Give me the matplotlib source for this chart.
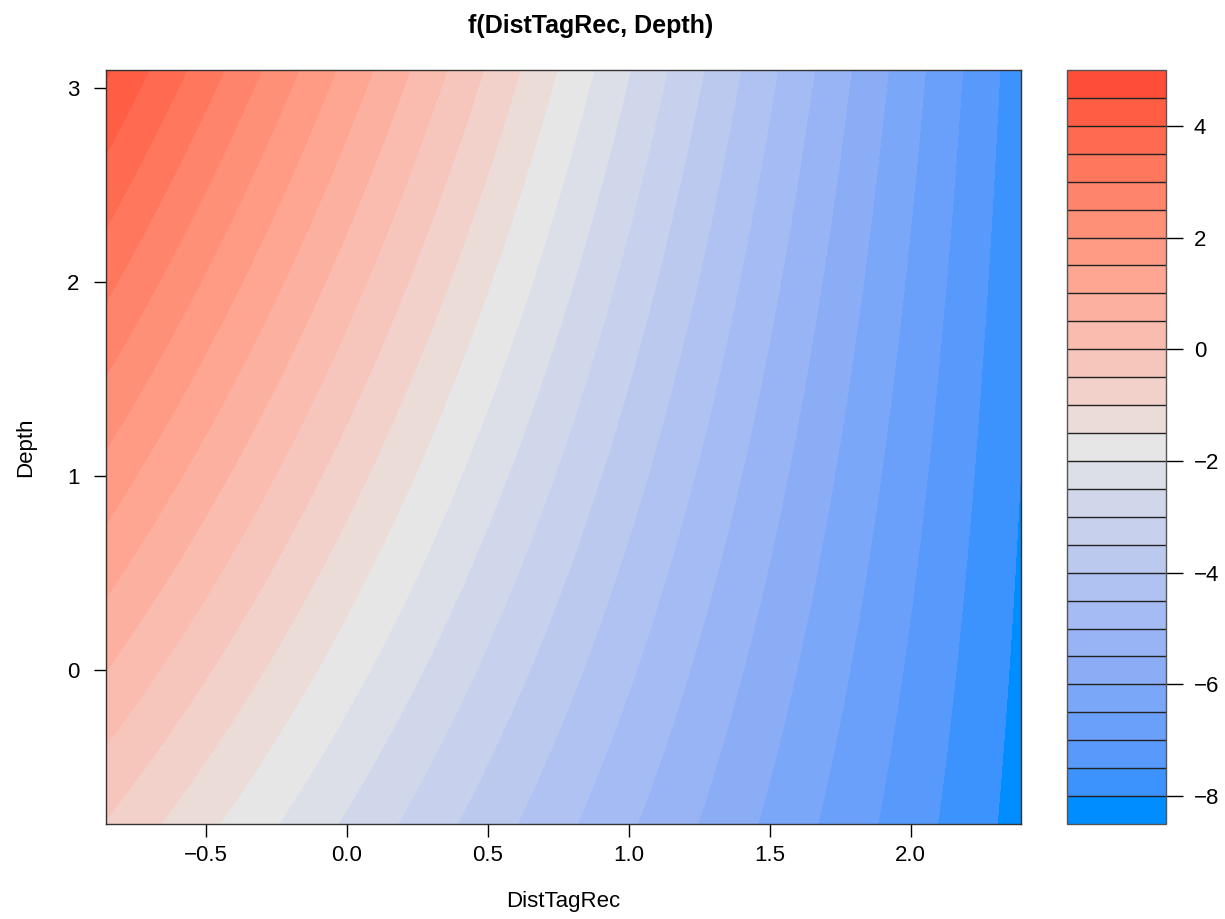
"""Filled contour of f(DistTagRec, Depth) with a banded colour key on the right."""

import numpy as np
import matplotlib

matplotlib.use("Agg")
import matplotlib.pyplot as plt

plt.rcParams["font.family"] = ["Liberation Sans", "DejaVu Sans"]

# values of f on a coarse grid
DIST_TAG_REC = [-0.85, -0.5, 0.0, 0.5, 1.0, 1.5, 2.0, 2.39]
DEPTH = [-0.79, 0.0, 1.0, 2.0, 3.09]
F_DEPTH_M079 = [-0.55, -1.39, -2.58, -3.75, -4.94, -6.10, -7.27, -8.20]
F_DEPTH_0 = [0.52, -0.43, -1.77, -3.10, -4.43, -5.75, -7.07, -8.11]
F_DEPTH_1 = [1.86, 0.76, -0.74, -2.25, -3.77, -5.27, -6.83, -8.00]
F_DEPTH_2 = [3.06, 1.91, 0.21, -1.50, -3.20, -4.90, -6.56, -7.90]
F_DEPTH_3 = [4.57, 3.28, 1.37, -0.57, -2.44, -4.39, -6.30, -7.78]

X_LIMITS = (-0.853, 2.391)
Y_LIMITS = (-0.794, 3.093)
LEVEL_MIN, LEVEL_MAX, LEVEL_STEP = -8.5, 5.0, 0.5

X_TICKS = [-0.5, 0.0, 0.5, 1.0, 1.5, 2.0]
X_TICK_LABELS = ["\u22120.5", "0.0", "0.5", "1.0", "1.5", "2.0"]
Y_TICKS = [0, 1, 2, 3]
KEY_TICKS = [-8, -6, -4, -2, 0, 2, 4]
PALETTE = ["#008DFF", "#E6E6E6", "#FF4E37"]

_WHITE = np.array([0.95047, 1.0, 1.08883])
_M = np.array([[0.4124, 0.3576, 0.1805],
               [0.2126, 0.7152, 0.0722],
               [0.0193, 0.1192, 0.9505]])


def _to_lab(hex_colour):
    rgb = np.array([int(hex_colour[k:k + 2], 16) / 255 for k in (1, 3, 5)])
    lin = np.where(rgb <= 0.04045, rgb / 12.92, ((rgb + 0.055) / 1.055) ** 2.4)
    t = _M @ lin / _WHITE
    f = np.where(t > (6 / 29) ** 3, np.cbrt(t), t / (3 * (6 / 29) ** 2) + 4 / 29)
    return np.array([116 * f[1] - 16, 500 * (f[0] - f[1]), 200 * (f[1] - f[2])])


def _from_lab(lab):
    fy = (lab[0] + 16) / 116
    f = np.array([fy + lab[1] / 500, fy, fy - lab[2] / 200])
    t = np.where(f > 6 / 29, f ** 3, 3 * (6 / 29) ** 2 * (f - 4 / 29)) * _WHITE
    lin = np.linalg.solve(_M, t)
    lin = np.clip(lin, 0, 1)
    rgb = np.where(lin <= 0.0031308, 12.92 * lin, 1.055 * lin ** (1 / 2.4) - 0.055)
    return tuple(np.clip(rgb, 0, 1))


def _ramp(n):
    # like colorRampPalette(..., space = "Lab")
    stops = [_to_lab(c) for c in PALETTE]
    out = []
    for k in range(n):
        pos = k / (n - 1) * (len(stops) - 1)
        i = min(int(pos), len(stops) - 2)
        w = pos - i
        out.append(_from_lab(stops[i] * (1 - w) + stops[i + 1] * w))
    return out


def _surface(n=300):
    # smooth the read-off grid with a low order polynomial surface
    xx, yy = np.meshgrid(DIST_TAG_REC, DEPTH)
    zz = np.array([F_DEPTH_M079, F_DEPTH_0, F_DEPTH_1, F_DEPTH_2, F_DEPTH_3])
    terms = [(i, j) for i in range(4) for j in range(3)]
    design = np.column_stack([xx.ravel() ** i * yy.ravel() ** j for i, j in terms])
    coef, *_ = np.linalg.lstsq(design, zz.ravel(), rcond=None)

    gx, gy = np.meshgrid(np.linspace(*X_LIMITS, n), np.linspace(*Y_LIMITS, n))
    gz = sum(c * gx ** i * gy ** j for c, (i, j) in zip(coef, terms))
    return gx, gy, gz


def main() -> None:
    levels = np.arange(LEVEL_MIN, LEVEL_MAX + LEVEL_STEP / 2, LEVEL_STEP)
    colors = _ramp(len(levels) - 1)

    gx, gy, gz = _surface()

    fig = plt.figure(figsize=(12.25, 9.19), dpi=100)
    W, H = 1225, 919
    ax = fig.add_axes([106 / W, 1 - 824 / H, 915 / W, 754 / H])
    cax = fig.add_axes([1067 / W, 1 - 824 / H, 99 / W, 754 / H])

    cs = ax.contourf(gx, gy, gz, levels=levels, colors=colors, antialiased=False)
    ax.set_xlim(*X_LIMITS)
    ax.set_ylim(*Y_LIMITS)
    ax.set_xticks(X_TICKS, X_TICK_LABELS)
    ax.set_yticks(Y_TICKS)
    ax.tick_params(direction="out", length=9, width=1, labelsize=16, pad=6)
    ax.tick_params(axis="y", pad=10)
    for sp in ax.spines.values():
        sp.set_color("#333333")
        sp.set_linewidth(1)

    cb = fig.colorbar(cs, cax=cax, ticks=KEY_TICKS, drawedges=True)
    cb.dividers.set_color("#222222")
    cb.dividers.set_linewidth(1)
    cb.outline.set_edgecolor("#555555")
    cb.outline.set_linewidth(1)
    cax.tick_params(direction="out", length=12, width=1, labelsize=16, pad=8)

    fig.text(591 / W, 1 - 26 / H, "f(DistTagRec, Depth)", fontsize=18,
             fontweight="bold", ha="center", va="center")
    fig.text(563 / W, 1 - 902 / H, "DistTagRec", fontsize=16, ha="center", va="center")
    fig.text(26 / W, 1 - 447 / H, "Depth", fontsize=16, rotation=90,
             ha="center", va="center")

    fig.savefig("out.png", dpi=100)


if __name__ == "__main__":
    main()
